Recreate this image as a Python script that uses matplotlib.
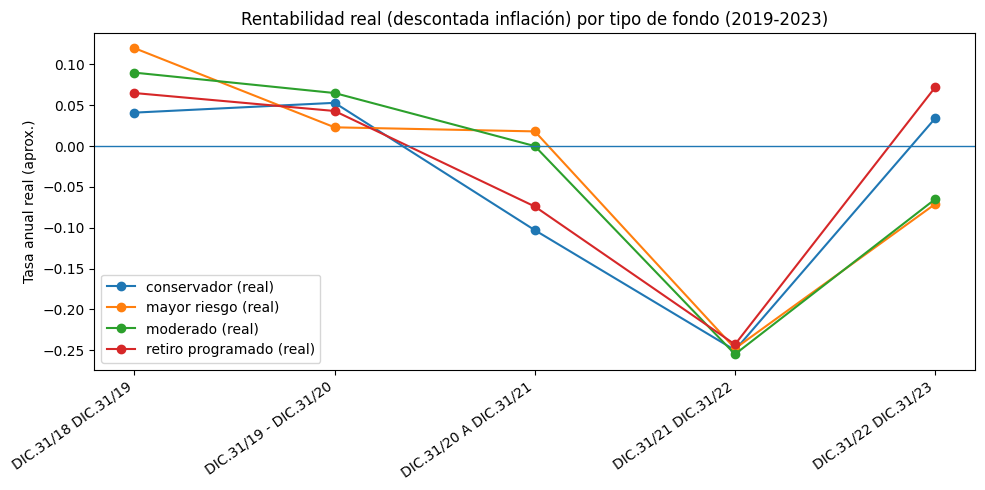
import matplotlib.pyplot as plt

periodos = ['DIC.31/18 DIC.31/19', 'DIC.31/19 - DIC.31/20', 'DIC.31/20 A DIC.31/21',
            'DIC.31/21 DIC.31/22', 'DIC.31/22 DIC.31/23']

conservador = [0.041, 0.053, -0.103, -0.250, 0.034]
mayor_riesgo = [0.120, 0.023, 0.018, -0.248, -0.071]
moderado = [0.090, 0.065, 0.000, -0.255, -0.065]
retiro_programado = [0.065, 0.043, -0.074, -0.243, 0.072]

series = {
    'conservador (real)': conservador,
    'mayor riesgo (real)': mayor_riesgo,
    'moderado (real)': moderado,
    'retiro programado (real)': retiro_programado,
}

fig, ax = plt.subplots(figsize=(10, 5), dpi=100)
x = range(len(periodos))
for name, vals in series.items():
    ax.plot(x, vals, marker='o', label=name)

ax.axhline(0, linewidth=1)
ax.set_xticks(list(x))
ax.set_xticklabels(periodos, rotation=35, ha='right')
ax.set_ylabel('Tasa anual real (aprox.)')
ax.set_title('Rentabilidad real (descontada inflación) por tipo de fondo (2019-2023)')
ax.legend(loc='lower left')
plt.tight_layout()
plt.savefig('out.png', bbox_inches='tight')
